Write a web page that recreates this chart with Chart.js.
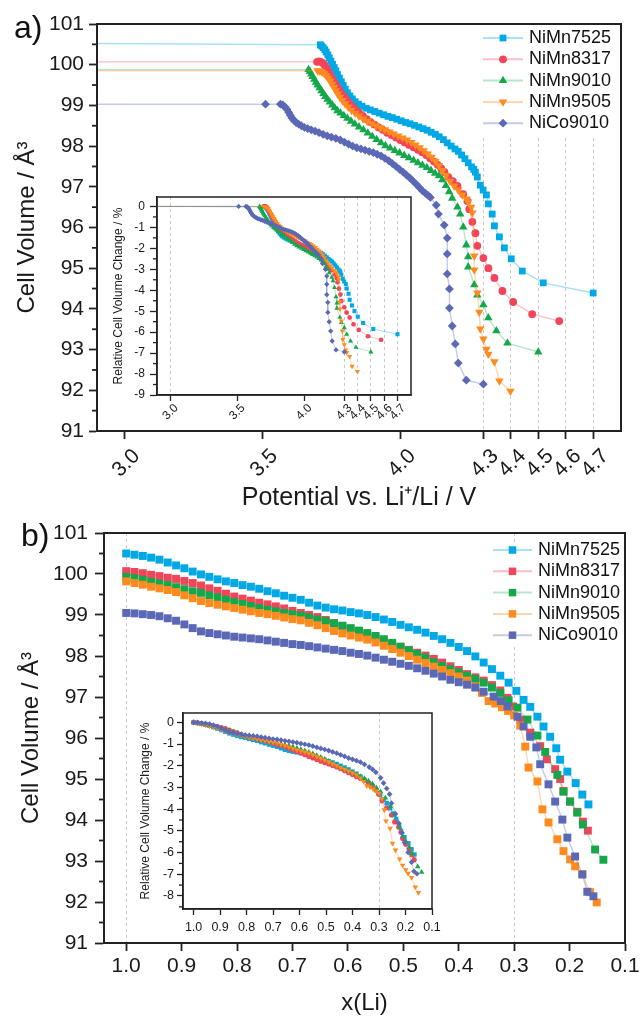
<!DOCTYPE html>
<html lang="en">
<head>
<meta charset="UTF-8">
<title>Cell volume vs potential and x(Li)</title>
<script src="https://cdn.jsdelivr.net/npm/chart.js@4"></script>
<style>
  body { margin: 0; background: #fff; }
  #wrap { position: relative; width: 640px; height: 1018px; }
  #wrap canvas { position: absolute; }
  .panel { position: absolute; font-size: 32px; font-family: 'Liberation Sans', Arial, sans-serif; color: #111; }
</style>
</head>
<body>
<div id="wrap">
  <canvas id="mainA" width="640" height="520" style="left:0px;top:0px"></canvas>
  <canvas id="mainB" width="640" height="508" style="left:0px;top:510px"></canvas>
  <canvas id="insetA" width="315" height="250" style="left:105px;top:185px"></canvas>
  <canvas id="insetB" width="315" height="245" style="left:130px;top:700px"></canvas>
  <div class="panel" style="left:14px;top:9px">a)</div>
  <div class="panel" style="left:21px;top:517px">b)</div>
</div>
<script>
// ---- values ----
const seriesNames = ['NiMn7525', 'NiMn8317', 'NiMn9010', 'NiMn9505', 'NiCo9010'];

// a) cell volume (Å³) vs potential (V). first point = start of the flat line at the left edge
const a_NiMn7525 = [[2.9,100.52],[3.710,100.49],[3.714,100.46],[3.720,100.42],[3.726,100.37],[3.731,100.31],[3.737,100.24],[3.742,100.17],[3.748,100.09],[3.754,100.01],[3.760,99.93],[3.766,99.85],[3.772,99.76],[3.779,99.67],[3.786,99.58],[3.793,99.49],[3.800,99.40],[3.808,99.31],[3.817,99.23],[3.826,99.16],[3.836,99.09],[3.848,99.03],[3.861,98.98],[3.876,98.93],[3.891,98.89],[3.907,98.85],[3.923,98.81],[3.939,98.77],[3.955,98.73],[3.971,98.70],[3.987,98.66],[4.003,98.62],[4.019,98.58],[4.035,98.55],[4.051,98.51],[4.067,98.47],[4.082,98.43],[4.097,98.39],[4.112,98.34],[4.127,98.29],[4.141,98.23],[4.156,98.16],[4.170,98.08],[4.184,98.00],[4.198,97.93],[4.210,97.87],[4.222,97.78],[4.234,97.69],[4.246,97.59],[4.258,97.49],[4.266,97.43],[4.272,97.36],[4.279,97.24],[4.290,97.04],[4.300,96.92],[4.312,96.80],[4.319,96.58],[4.333,96.33],[4.341,96.04],[4.359,95.77],[4.377,95.50],[4.402,95.23],[4.442,94.93],[4.518,94.64],[4.699,94.39]];
const a_NiMn8317 = [[2.9,100.07],[3.698,100.07],[3.705,100.08],[3.712,100.07],[3.719,100.04],[3.725,99.99],[3.731,99.93],[3.737,99.86],[3.743,99.78],[3.749,99.70],[3.756,99.62],[3.763,99.54],[3.770,99.46],[3.778,99.38],[3.786,99.30],[3.795,99.22],[3.804,99.14],[3.814,99.06],[3.825,98.98],[3.837,98.90],[3.850,98.82],[3.864,98.74],[3.878,98.66],[3.892,98.59],[3.906,98.53],[3.921,98.46],[3.936,98.40],[3.952,98.33],[3.968,98.27],[3.984,98.21],[4.000,98.15],[4.016,98.09],[4.032,98.03],[4.048,97.97],[4.064,97.91],[4.079,97.85],[4.094,97.78],[4.108,97.70],[4.122,97.62],[4.135,97.54],[4.148,97.45],[4.160,97.36],[4.174,97.24],[4.190,97.14],[4.207,97.02],[4.228,96.82],[4.243,96.65],[4.250,96.45],[4.261,96.14],[4.272,95.86],[4.279,95.55],[4.301,95.25],[4.319,95.00],[4.341,94.76],[4.370,94.44],[4.409,94.17],[4.478,93.87],[4.576,93.70]];
const a_NiMn9010 = [[2.9,99.88],[3.667,99.88],[3.672,99.83],[3.677,99.77],[3.682,99.71],[3.688,99.64],[3.694,99.57],[3.700,99.50],[3.707,99.43],[3.714,99.36],[3.721,99.29],[3.728,99.22],[3.736,99.15],[3.744,99.08],[3.753,99.01],[3.762,98.94],[3.772,98.87],[3.783,98.81],[3.795,98.75],[3.808,98.68],[3.821,98.61],[3.835,98.54],[3.850,98.47],[3.866,98.40],[3.882,98.32],[3.898,98.24],[3.914,98.16],[3.930,98.08],[3.946,98.01],[3.963,97.95],[3.980,97.89],[3.997,97.83],[4.014,97.77],[4.031,97.71],[4.048,97.65],[4.064,97.59],[4.080,97.53],[4.096,97.47],[4.111,97.40],[4.126,97.33],[4.140,97.27],[4.152,97.17],[4.165,97.03],[4.177,96.88],[4.188,96.72],[4.207,96.50],[4.217,96.33],[4.228,96.01],[4.239,95.57],[4.246,95.28],[4.246,95.03],[4.268,94.59],[4.279,94.34],[4.301,94.10],[4.319,93.78],[4.348,93.46],[4.388,93.16],[4.500,92.94]];
const a_NiMn9505 = [[2.9,99.85],[3.700,99.85],[3.708,99.84],[3.716,99.82],[3.724,99.78],[3.731,99.73],[3.738,99.67],[3.745,99.60],[3.752,99.52],[3.759,99.44],[3.766,99.36],[3.773,99.28],[3.781,99.20],[3.790,99.12],[3.800,99.04],[3.811,98.96],[3.823,98.88],[3.836,98.81],[3.850,98.74],[3.865,98.67],[3.880,98.61],[3.896,98.55],[3.912,98.50],[3.928,98.45],[3.944,98.40],[3.960,98.35],[3.976,98.30],[3.992,98.25],[4.008,98.20],[4.024,98.15],[4.040,98.09],[4.055,98.03],[4.070,97.96],[4.085,97.89],[4.099,97.81],[4.113,97.73],[4.127,97.63],[4.140,97.52],[4.153,97.40],[4.166,97.28],[4.180,97.14],[4.195,97.02],[4.210,96.92],[4.225,96.80],[4.240,96.70],[4.246,96.63],[4.257,96.50],[4.261,96.36],[4.268,95.30],[4.268,94.96],[4.279,94.39],[4.286,93.92],[4.290,93.51],[4.301,93.26],[4.312,93.01],[4.319,92.89],[4.341,92.70],[4.359,92.23],[4.399,91.98]];
const a_NiCo9010 = [[2.9,99.03],[3.511,99.03],[3.565,99.03],[3.574,99.01],[3.582,98.96],[3.589,98.90],[3.595,98.83],[3.601,98.76],[3.607,98.69],[3.614,98.63],[3.622,98.58],[3.631,98.54],[3.641,98.50],[3.652,98.46],[3.664,98.43],[3.677,98.40],[3.691,98.37],[3.705,98.33],[3.720,98.29],[3.735,98.25],[3.750,98.22],[3.766,98.19],[3.782,98.15],[3.797,98.10],[3.812,98.05],[3.827,98.00],[3.842,97.96],[3.857,97.93],[3.872,97.90],[3.887,97.87],[3.902,97.84],[3.916,97.80],[3.930,97.76],[3.944,97.70],[3.958,97.64],[3.971,97.57],[3.984,97.50],[3.997,97.43],[4.010,97.36],[4.022,97.29],[4.034,97.22],[4.046,97.14],[4.058,97.06],[4.069,96.98],[4.080,96.90],[4.091,96.84],[4.100,96.79],[4.109,96.74],[4.130,96.55],[4.138,96.33],[4.159,96.06],[4.170,95.74],[4.170,95.35],[4.170,94.86],[4.178,94.49],[4.178,94.02],[4.188,93.58],[4.199,93.14],[4.210,92.67],[4.239,92.25],[4.301,92.15]];

// b) cell volume (Å³) vs x(Li)
const b_NiMn7525 = [[1.000,100.50],[0.985,100.47],[0.970,100.44],[0.955,100.40],[0.940,100.35],[0.925,100.28],[0.910,100.21],[0.895,100.14],[0.880,100.06],[0.865,99.99],[0.850,99.93],[0.835,99.87],[0.820,99.82],[0.805,99.78],[0.790,99.73],[0.775,99.69],[0.760,99.64],[0.745,99.58],[0.730,99.53],[0.715,99.47],[0.700,99.42],[0.685,99.37],[0.670,99.30],[0.655,99.23],[0.640,99.18],[0.625,99.14],[0.610,99.11],[0.595,99.07],[0.580,99.04],[0.565,99.00],[0.550,98.95],[0.535,98.89],[0.520,98.83],[0.505,98.76],[0.490,98.70],[0.475,98.64],[0.460,98.57],[0.445,98.49],[0.430,98.41],[0.415,98.32],[0.400,98.22],[0.385,98.12],[0.370,97.99],[0.355,97.84],[0.340,97.68],[0.325,97.52],[0.310,97.35],[0.296,97.15],[0.283,96.93],[0.271,96.76],[0.258,96.52],[0.247,96.28],[0.235,96.03],[0.224,95.75],[0.217,95.47],[0.204,95.18],[0.189,94.90],[0.177,94.62],[0.166,94.38]];
const b_NiMn8317 = [[1.000,100.07],[0.985,100.05],[0.970,100.02],[0.955,99.98],[0.940,99.95],[0.925,99.91],[0.910,99.88],[0.895,99.83],[0.880,99.78],[0.865,99.72],[0.850,99.65],[0.835,99.59],[0.820,99.52],[0.805,99.45],[0.790,99.40],[0.775,99.35],[0.760,99.30],[0.745,99.26],[0.730,99.21],[0.715,99.16],[0.700,99.10],[0.685,99.05],[0.670,99.00],[0.655,98.95],[0.640,98.88],[0.625,98.80],[0.610,98.73],[0.595,98.66],[0.580,98.58],[0.565,98.50],[0.550,98.43],[0.535,98.36],[0.520,98.28],[0.505,98.21],[0.490,98.15],[0.475,98.08],[0.460,98.01],[0.445,97.93],[0.430,97.84],[0.415,97.75],[0.400,97.66],[0.385,97.56],[0.370,97.48],[0.355,97.40],[0.340,97.29],[0.325,97.16],[0.312,96.98],[0.302,96.77],[0.289,96.45],[0.271,96.13],[0.253,95.80],[0.241,95.48],[0.226,95.24],[0.217,95.00],[0.211,94.71],[0.199,94.45],[0.186,94.20],[0.176,93.96],[0.167,93.74]];
const b_NiMn9010 = [[1.000,99.93],[0.985,99.90],[0.970,99.86],[0.955,99.81],[0.940,99.77],[0.925,99.73],[0.910,99.68],[0.895,99.63],[0.880,99.58],[0.865,99.54],[0.850,99.48],[0.835,99.43],[0.820,99.37],[0.805,99.32],[0.790,99.27],[0.775,99.22],[0.760,99.17],[0.745,99.13],[0.730,99.09],[0.715,99.05],[0.700,99.02],[0.685,98.99],[0.670,98.94],[0.655,98.89],[0.640,98.85],[0.625,98.80],[0.610,98.74],[0.595,98.68],[0.580,98.62],[0.565,98.56],[0.550,98.49],[0.535,98.41],[0.520,98.32],[0.505,98.23],[0.490,98.14],[0.475,98.05],[0.460,97.96],[0.445,97.85],[0.430,97.76],[0.415,97.68],[0.400,97.60],[0.385,97.52],[0.370,97.44],[0.355,97.35],[0.340,97.23],[0.325,97.10],[0.310,96.92],[0.294,96.74],[0.276,96.45],[0.258,96.06],[0.244,95.66],[0.222,95.10],[0.211,94.69],[0.199,94.45],[0.186,94.18],[0.176,93.89],[0.154,93.28],[0.139,93.03]];
const b_NiMn9505 = [[1.000,99.82],[0.985,99.78],[0.970,99.74],[0.955,99.69],[0.940,99.65],[0.925,99.61],[0.910,99.56],[0.895,99.48],[0.880,99.41],[0.865,99.34],[0.850,99.29],[0.835,99.25],[0.820,99.21],[0.805,99.17],[0.790,99.13],[0.775,99.09],[0.760,99.05],[0.745,99.02],[0.730,98.98],[0.715,98.94],[0.700,98.90],[0.685,98.87],[0.670,98.81],[0.655,98.75],[0.640,98.68],[0.625,98.61],[0.610,98.55],[0.595,98.50],[0.580,98.45],[0.565,98.40],[0.550,98.33],[0.535,98.25],[0.520,98.17],[0.505,98.08],[0.490,98.00],[0.475,97.91],[0.460,97.83],[0.445,97.74],[0.430,97.66],[0.415,97.58],[0.400,97.50],[0.385,97.40],[0.370,97.26],[0.358,97.10],[0.346,96.90],[0.334,96.84],[0.322,96.75],[0.311,96.66],[0.300,96.55],[0.289,96.30],[0.280,95.79],[0.274,95.28],[0.258,94.94],[0.249,94.26],[0.238,93.94],[0.222,93.53],[0.211,93.24],[0.199,93.04],[0.190,92.87],[0.177,92.68],[0.163,92.24],[0.151,91.99]];
const b_NiCo9010 = [[1.000,99.05],[0.985,99.04],[0.970,99.02],[0.955,99.00],[0.940,98.97],[0.925,98.92],[0.910,98.86],[0.895,98.77],[0.880,98.68],[0.865,98.60],[0.850,98.56],[0.835,98.53],[0.820,98.50],[0.805,98.47],[0.790,98.45],[0.775,98.43],[0.760,98.41],[0.745,98.38],[0.730,98.35],[0.715,98.32],[0.700,98.29],[0.685,98.27],[0.670,98.24],[0.655,98.21],[0.640,98.18],[0.625,98.15],[0.610,98.12],[0.595,98.08],[0.580,98.05],[0.565,98.01],[0.550,97.96],[0.535,97.91],[0.520,97.86],[0.505,97.81],[0.490,97.76],[0.475,97.70],[0.460,97.64],[0.445,97.57],[0.430,97.50],[0.415,97.42],[0.400,97.36],[0.385,97.30],[0.370,97.23],[0.355,97.13],[0.337,97.01],[0.324,96.90],[0.312,96.77],[0.294,96.52],[0.283,96.28],[0.271,96.03],[0.260,95.77],[0.253,95.36],[0.238,94.87],[0.226,94.45],[0.213,94.01],[0.204,93.57],[0.190,93.11],[0.177,92.67],[0.168,92.25],[0.157,92.14]];

// tick labels
const potentialTicks = [3.0, 3.5, 4.0, 4.3, 4.4, 4.5, 4.6, 4.7];
const potentialDashed = [4.3, 4.4, 4.5, 4.6, 4.7];
const insetPotentialDashed = [3.0, 4.3, 4.4, 4.5, 4.6, 4.7];
const xLiTicks = [1.0, 0.9, 0.8, 0.7, 0.6, 0.5, 0.4, 0.3, 0.2, 0.1];
const xLiDashed = [1.0, 0.3];
const insetXLiDashed = [0.3];
const volumeTicks = [91, 92, 93, 94, 95, 96, 97, 98, 99, 100, 101];
const relTicksA = [-9, -8, -7, -6, -5, -4, -3, -2, -1, 0];
const relTicksB = [-8, -7, -6, -5, -4, -3, -2, -1, 0];

// insets show the same runs as % change against each run's first volume
function relChange(pts) {
  const v0 = pts[0][1];
  return pts.map(p => [p[0], (p[1] / v0 - 1) * 100]);
}

const seriesA = [a_NiMn7525, a_NiMn8317, a_NiMn9010, a_NiMn9505, a_NiCo9010];
const seriesB = [b_NiMn7525, b_NiMn8317, b_NiMn9010, b_NiMn9505, b_NiCo9010];

// ---- styles ----
const FONT = "'Liberation Sans', Arial, sans-serif";
Chart.defaults.font.family = FONT;
Chart.defaults.color = '#1a1a1a';
const colors = ['#00a9e6', '#f2455a', '#14a84b', '#ff8a1d', '#5a68b5'];
const lineColors = ['rgba(0,169,230,0.35)', 'rgba(242,69,90,0.35)', 'rgba(20,168,75,0.3)', 'rgba(255,138,29,0.35)', 'rgba(90,104,181,0.35)'];
const markers = [
  {style: 'rect', r: 4.8, rot: 0},
  {style: 'circle', r: 3.9, rot: 0},
  {style: 'triangle', r: 4.9, rot: 0},
  {style: 'triangle', r: 4.9, rot: 180},
  {style: 'rectRot', r: 4.4, rot: 0}
];

function makeSets(list, o) {
  return list.map((pts, i) => {
    const m = o.squares ? {style: 'rect', r: o.r, rot: 0} : markers[i];
    const r = o.squares ? o.r : m.r * o.scale;
    return {
      label: seriesNames[i],
      data: pts.map(p => ({x: p[0], y: p[1]})),
      borderColor: lineColors[i],
      borderWidth: o.lw,
      backgroundColor: colors[i],
      pointBackgroundColor: colors[i],
      pointBorderWidth: 0,
      pointStyle: m.style,
      pointRotation: m.rot,
      pointRadius: c => (o.hideFirst && c.dataIndex === 0) ? 0 : r,
      pointHoverRadius: 0,
      tension: 0,
      order: list.length - i
    };
  });
}

// box around the plot area
const framePlugin = {
  id: 'frame',
  afterDraw(chart, args, o) {
    const {ctx, chartArea: a} = chart;
    ctx.save();
    ctx.strokeStyle = '#222';
    ctx.lineWidth = o.width;
    ctx.strokeRect(a.left, a.top, a.right - a.left, a.bottom - a.top);
    ctx.restore();
  }
};

// short ticks halfway between the y labels
const minorTicks = {
  id: 'minorTicks',
  afterDraw(chart, args, o) {
    const s = chart.scales.y, ctx = chart.ctx;
    ctx.save();
    ctx.strokeStyle = '#222';
    ctx.lineWidth = o.width;
    for (let v = Math.ceil(s.min * 2) / 2; v <= s.max; v += 0.5) {
      if (Number.isInteger(v)) continue;
      const y = s.getPixelForValue(v);
      ctx.beginPath();
      ctx.moveTo(s.right - o.len, y);
      ctx.lineTo(s.right, y);
      ctx.stroke();
    }
    ctx.restore();
  }
};

// legend with line + marker samples
const lineLegend = {
  id: 'lineLegend',
  afterDatasetsDraw(chart, args, o) {
    const ctx = chart.ctx;
    ctx.save();
    ctx.fillStyle = '#fff';
    ctx.fillRect(o.box.x, o.box.y, o.box.w, o.box.h);
    ctx.font = o.font + 'px ' + FONT;
    ctx.textBaseline = 'middle';
    chart.data.datasets.forEach((ds, i) => {
      const y = o.y + i * o.step;
      ctx.strokeStyle = ds.borderColor;
      ctx.lineWidth = 2;
      ctx.beginPath();
      ctx.moveTo(o.x, y);
      ctx.lineTo(o.x + o.len, y);
      ctx.stroke();
      ctx.fillStyle = ds.pointBackgroundColor;
      const r = o.squares ? o.r : markers[i].r;
      Chart.helpers.drawPoint(ctx, {pointStyle: ds.pointStyle, rotation: ds.pointRotation, radius: r, borderWidth: 0}, o.x + o.len / 2, y);
      ctx.fillStyle = '#111';
      ctx.fillText(ds.label, o.x + o.len + 6, y);
    });
    ctx.restore();
  }
};

function xAxis(c) {
  return {
    type: 'linear', min: c.min, max: c.max, reverse: !!c.reverse,
    afterBuildTicks: ax => { ax.ticks = c.ticks.map(v => ({value: v})); },
    afterFit: ax => { ax.height = c.height; ax.paddingLeft = 0; ax.paddingRight = 0; },
    ticks: {
      font: {size: c.font}, autoSkip: false, maxRotation: c.rot, minRotation: c.rot,
      padding: c.pad, labelOffset: c.lo || 0, color: '#1a1a1a',
      callback: v => v.toFixed(1)
    },
    grid: {
      color: ctx => (ctx.tick && c.dashed.includes(ctx.tick.value)) ? '#c8c8c8' : 'rgba(0,0,0,0)',
      lineWidth: 1, tickLength: c.tl, tickWidth: c.tw, tickColor: '#222'
    },
    border: {color: '#222', width: c.bw, dash: [3, 3]},
    title: c.title ? {display: true, text: c.title, font: {size: c.tfont}, color: '#1a1a1a', padding: {top: 0, bottom: c.tpad}} : {display: false}
  };
}

function yAxis(c) {
  return {
    type: 'linear', min: c.min, max: c.max,
    afterBuildTicks: ax => { ax.ticks = c.ticks.map(v => ({value: v})); },
    afterFit: ax => { ax.width = c.width; ax.paddingTop = 0; ax.paddingBottom = 0; },
    ticks: {font: {size: c.font}, padding: c.pad, color: '#1a1a1a', callback: v => String(v)},
    grid: {drawOnChartArea: false, tickLength: c.tl, tickWidth: c.tw, tickColor: '#222'},
    border: {color: '#222', width: c.bw},
    title: {display: true, text: c.title, font: {size: c.tfont}, color: '#1a1a1a', padding: {top: c.tpad, bottom: 0}}
  };
}

function build(id, c) {
  return new Chart(document.getElementById(id), {
    type: 'line',
    data: {datasets: c.datasets},
    options: {
      responsive: false, animation: false, events: [],
      layout: {padding: c.padding},
      plugins: {legend: {display: false}, tooltip: {enabled: false}, frame: c.frame, minorTicks: c.minor, lineLegend: c.legend || false},
      scales: {x: c.x, y: c.y}
    },
    plugins: [framePlugin, minorTicks, lineLegend]
  });
}

// a) main
build('mainA', {
  datasets: makeSets(seriesA, {scale: 1, lw: 1.4, hideFirst: true}),
  padding: {left: 0, top: 24, right: 19, bottom: 0},
  frame: {width: 2}, minor: {len: 5, width: 1.8},
  legend: {x: 483, y: 38, step: 21.3, len: 40, font: 18, box: {x: 476, y: 25, w: 144, h: 111}},
  x: xAxis({min: 2.9, max: 4.8, ticks: potentialTicks, dashed: potentialDashed, height: 89, font: 21, rot: 45, pad: 5, lo: 12, tl: 8, tw: 1.8, bw: 2, title: 'Potential vs. Li⁺/Li / V', tfont: 25, tpad: 7}),
  y: yAxis({min: 91, max: 101, ticks: volumeTicks, width: 97, font: 21, pad: 5, tl: 8, tw: 1.8, bw: 2, title: 'Cell Volume / Å³', tfont: 24, tpad: 13})
});

// a) inset
build('insetA', {
  datasets: makeSets(seriesA.map(relChange), {scale: 0.6, lw: 1, hideFirst: true}),
  padding: {left: 0, top: 12, right: 9, bottom: 0},
  frame: {width: 1.5}, minor: {len: 4, width: 1.3},
  x: xAxis({min: 2.9, max: 4.8, ticks: potentialTicks, dashed: insetPotentialDashed, height: 40, font: 12, rot: 45, pad: 0, lo: 6, tl: 6, tw: 1.3, bw: 1.5}),
  y: yAxis({min: -9, max: 0.45, ticks: relTicksA, width: 52, font: 12, pad: 5, tl: 7, tw: 1.3, bw: 1.5, title: 'Relative Cell Volume Change / %', tfont: 12, tpad: 6})
});

// b) main
build('mainB', {
  datasets: makeSets(seriesB, {squares: true, r: 5.6, lw: 1.4}),
  padding: {left: 0, top: 23, right: 15, bottom: 0},
  frame: {width: 2}, minor: {len: 5, width: 1.8},
  legend: {x: 493, y: 40, step: 21.3, len: 39, font: 18, squares: true, r: 5.3, box: {x: 486, y: 33, w: 136, h: 103}},
  x: xAxis({min: 0.1, max: 1.04, reverse: true, ticks: xLiTicks, dashed: xLiDashed, height: 75, font: 21, rot: 0, pad: 3, tl: 8, tw: 1.8, bw: 2, title: 'x(Li)', tfont: 24, tpad: 0}),
  y: yAxis({min: 91, max: 101, ticks: volumeTicks, width: 104, font: 21, pad: 7, tl: 9, tw: 1.8, bw: 2, title: 'Cell Volume / Å³', tfont: 24, tpad: 17})
});

// b) inset
build('insetB', {
  datasets: makeSets(seriesB.map(relChange), {scale: 0.65, lw: 1}),
  padding: {left: 0, top: 13, right: 13, bottom: 0},
  frame: {width: 1.5}, minor: {len: 4, width: 1.3},
  x: xAxis({min: 0.1, max: 1.04, reverse: true, ticks: xLiTicks, dashed: insetXLiDashed, height: 36, font: 12.5, rot: 0, pad: 5, tl: 6, tw: 1.3, bw: 1.5}),
  y: yAxis({min: -8.6, max: 0.43, ticks: relTicksB, width: 53, font: 12.5, pad: 3, tl: 6, tw: 1.3, bw: 1.5, title: 'Relative Cell Volume Change / %', tfont: 12, tpad: 8})
});
</script>
</body>
</html>
